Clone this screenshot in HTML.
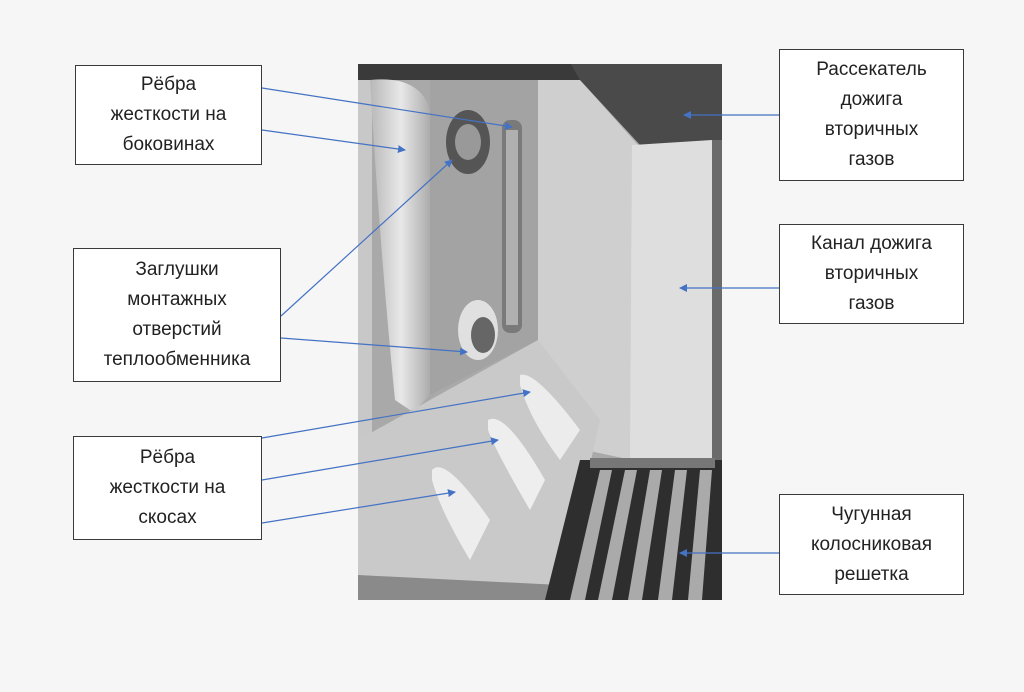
<!DOCTYPE html>
<html><head><meta charset="utf-8"><style>
body{margin:0;width:1024px;height:692px;background:#f6f6f6;position:relative;overflow:hidden;font-family:"Liberation Sans",sans-serif}
.b{position:absolute;background:#fff;border:1px solid #3a3a3a;box-sizing:border-box;display:flex;align-items:center;justify-content:center;text-align:center;font-size:19px;line-height:30px;color:#222}
svg{position:absolute;left:0;top:0}
</style></head><body>
<svg width="1024" height="692">
<defs>
<marker id="a" markerWidth="8" markerHeight="8" refX="7" refY="4" orient="auto" markerUnits="userSpaceOnUse"><path d="M0,0L8,4L0,8z" fill="#4472c4"/></marker>
<linearGradient id="g1" x1="0" x2="1"><stop offset="0" stop-color="#b8b8b8"/><stop offset=".5" stop-color="#e8e8e8"/><stop offset="1" stop-color="#a8a8a8"/></linearGradient>
</defs>
<rect x="358" y="64" width="364" height="536" fill="#a9a9a9"/>
<rect x="358" y="64" width="364" height="16" fill="#3a3a3a"/>
<path d="M358,80 L358,600 L372,600 L372,80z" fill="#c8c8c8"/>
<path d="M370,80 Q420,75 430,110 L432,390 Q420,410 410,410 L395,400 Q380,250 370,80z" fill="url(#g1)"/>
<path d="M430,80 L538,80 L538,340 L430,395z" fill="#a3a3a3"/>
<path d="M538,80 L580,80 L638,145 L632,460 L538,440z" fill="#cfcfcf"/>
<path d="M571,64 L722,64 L722,150 L700,152 L640,145 L580,80z" fill="#4a4a4a"/>
<path d="M632,145 L712,140 L712,460 L630,460z" fill="#dedede"/>
<path d="M712,140 L722,140 L722,460 L712,460z" fill="#6a6a6a"/>
<path d="M358,440 L538,340 L600,420 L560,600 L358,600z" fill="#c9c9c9"/>
<path d="M520,375 Q535,370 580,430 L560,460 Q530,420 520,385z" fill="#ececec"/>
<path d="M488,420 Q505,410 545,480 L530,510 Q495,450 488,430z" fill="#eeeeee"/>
<path d="M432,470 Q445,455 490,520 L470,560 Q440,510 432,480z" fill="#ededed"/>
<path d="M358,575 L560,585 L560,600 L358,600z" fill="#8a8a8a"/>
<path d="M580,460 L722,460 L722,600 L545,600z" fill="#2e2e2e"/>
<g fill="#aaa"><path d="M600,470 L612,470 L585,600 L570,600z"/><path d="M625,470 L637,470 L612,600 L598,600z"/><path d="M650,470 L662,470 L642,600 L628,600z"/><path d="M675,470 L687,470 L672,600 L658,600z"/><path d="M700,470 L712,470 L702,600 L688,600z"/></g>
<rect x="590" y="458" width="125" height="10" fill="#777"/>
<ellipse cx="468" cy="142" rx="22" ry="32" fill="#555"/><ellipse cx="468" cy="142" rx="13" ry="18" fill="#999"/>
<ellipse cx="478" cy="330" rx="20" ry="30" fill="#e0e0e0"/><ellipse cx="483" cy="335" rx="12" ry="18" fill="#666"/>
<rect x="502" y="120" width="20" height="213" rx="8" fill="#7a7a7a"/><rect x="506" y="130" width="12" height="195" fill="#b0b0b0"/>
<g stroke="#4472c4" stroke-width="1.2" marker-end="url(#a)">
<line x1="262" y1="88" x2="512" y2="127"/>
<line x1="262" y1="130" x2="405" y2="150"/>
<line x1="281" y1="316" x2="452" y2="160"/>
<line x1="281" y1="338" x2="467" y2="352"/>
<line x1="262" y1="438" x2="530" y2="392"/>
<line x1="262" y1="480" x2="498" y2="440"/>
<line x1="262" y1="523" x2="455" y2="492"/>
<line x1="779" y1="115" x2="684" y2="115"/>
<line x1="779" y1="288" x2="680" y2="288"/>
<line x1="779" y1="553" x2="680" y2="553"/>
</g>
</svg>
<div class="b" style="left:75px;top:65px;width:187px;height:100px">Рёбра<br>жесткости на<br>боковинах</div>
<div class="b" style="left:73px;top:248px;width:208px;height:134px">Заглушки<br>монтажных<br>отверстий<br>теплообменника</div>
<div class="b" style="left:73px;top:436px;width:189px;height:104px">Рёбра<br>жесткости на<br>скосах</div>
<div class="b" style="left:779px;top:49px;width:185px;height:132px">Рассекатель<br>дожига<br>вторичных<br>газов</div>
<div class="b" style="left:779px;top:224px;width:185px;height:100px">Канал дожига<br>вторичных<br>газов</div>
<div class="b" style="left:779px;top:494px;width:185px;height:101px">Чугунная<br>колосниковая<br>решетка</div>
</body></html>
